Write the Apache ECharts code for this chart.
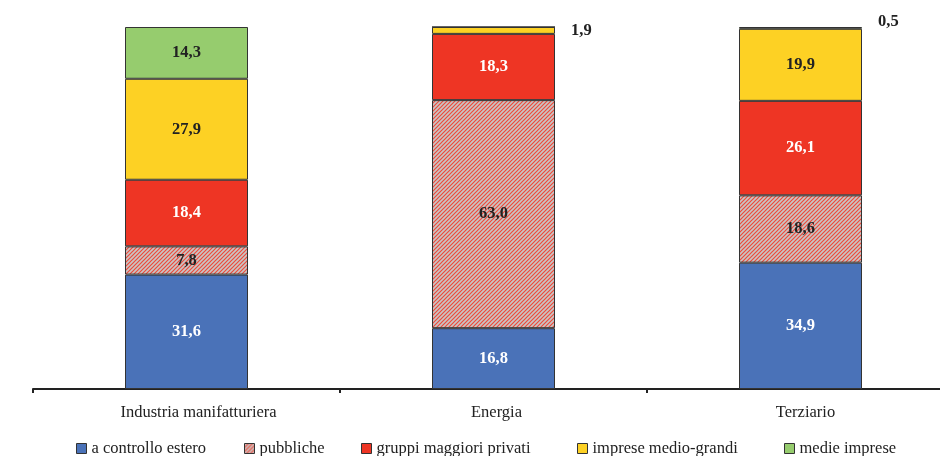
<!DOCTYPE html>
<html>
<head>
<meta charset="utf-8">
<script src="https://cdn.jsdelivr.net/npm/echarts@6/dist/echarts.min.js"></script>
<style>
  html, body { margin: 0; padding: 0; background: #fff; }
  #chart { width: 940px; height: 456px; }
</style>
</head>
<body>
<div id="chart"></div>
<script>
// categories and series values (percent shares)
const categories = ['Industria manifatturiera', 'Energia', 'Terziario'];
const controlloEstero = [31.6, 16.8, 34.9];
const pubbliche = [7.8, 63.0, 18.6];
const gruppiPrivati = [18.4, 18.3, 26.1];
const medioGrandi = [27.9, 1.9, 19.9];
const medieImprese = [14.3, 0, 0.5];

const seriesNames = ['a controllo estero', 'pubbliche', 'gruppi maggiori privati', 'imprese medio-grandi', 'medie imprese'];
// x of each legend marker
const legendLeft = [76, 244, 361, 577, 784];
// horizontal nudge of category labels (px)
const labelShift = [12, 3, 5];

// hatch pattern for "pubbliche"
function hatch() {
  const c = document.createElement('canvas');
  c.width = 4; c.height = 4;
  const ctx = c.getContext('2d');
  ctx.fillStyle = '#c9c6c6';
  ctx.fillRect(0, 0, 4, 4);
  ctx.strokeStyle = '#ee4a3a';
  ctx.lineWidth = 1.2;
  ctx.beginPath();
  ctx.moveTo(-1, 5); ctx.lineTo(5, -1);
  ctx.moveTo(-1, 1); ctx.lineTo(1, -1);
  ctx.moveTo(3, 5); ctx.lineTo(5, 3);
  ctx.stroke();
  return c;
}

const fmt = v => v.toFixed(1).replace('.', ',');
const font = '"Liberation Serif", "Times New Roman", serif';

function labelCfg(color) {
  return {
    show: true,
    position: 'inside',
    color: color,
    fontFamily: font,
    fontWeight: 'bold',
    fontSize: 16.5,
    formatter: p => fmt(p.value)
  };
}

function mkSeries(name, data, color, labelColor, special) {
  return {
    name: name,
    type: 'bar',
    stack: 'tot',
    barWidth: 123,
    data: data.map((v, i) => {
      const d = { value: v };
      if (v === 0) d.label = { show: false };
      if (special && special[i]) d.label = special[i];
      return d;
    }),
    itemStyle: { color: color, borderColor: '#333', borderWidth: 1 },
    label: labelCfg(labelColor),
    emphasis: { disabled: true }
  };
}

const outside = dy => ({
  show: true, position: 'right', distance: 16, offset: [0, dy],
  color: '#222', fontFamily: font, fontWeight: 'bold', fontSize: 16.5,
  formatter: p => fmt(p.value)
});

const legends = seriesNames.map((n, i) => ({
  top: 440,
  left: legendLeft[i],
  padding: 0,
  itemWidth: 10,
  itemHeight: 10,
  icon: 'rect',
  textStyle: { color: '#222', fontFamily: font, fontSize: 16.5, padding: [0, 0, 0, 0] },
  itemStyle: { borderColor: '#333', borderWidth: 1 },
  data: [n]
}));

const chart = echarts.init(document.getElementById('chart'));
chart.setOption({
  animation: false,
  grid: { left: 33, top: 27, width: 921, height: 362, outerBoundsMode: 'none', containLabel: false },
  xAxis: {
    type: 'category',
    data: categories.map((c, i) => ({ value: c, textStyle: { padding: [0, 0, 0, labelShift[i] * 2] } })),
    axisLine: { lineStyle: { color: '#222', width: 2 } },
    axisTick: { show: true, length: 4, lineStyle: { color: '#222', width: 2 } },
    axisLabel: { color: '#222', fontFamily: font, fontSize: 16.5, margin: 15 }
  },
  yAxis: { type: 'value', min: 0, max: 100, show: false },
  legend: legends,
  series: [
    mkSeries(seriesNames[0], controlloEstero, '#4a72b8', '#fff'),
    mkSeries(seriesNames[1], pubbliche, { image: hatch(), repeat: 'repeat' }, '#222'),
    mkSeries(seriesNames[2], gruppiPrivati, '#ee3524', '#fff'),
    mkSeries(seriesNames[3], medioGrandi, '#fdd124', '#222', [null, outside(0), null]),
    mkSeries(seriesNames[4], medieImprese, '#96cc6e', '#222', [null, null, outside(-6)])
  ]
});
</script>
</body>
</html>
